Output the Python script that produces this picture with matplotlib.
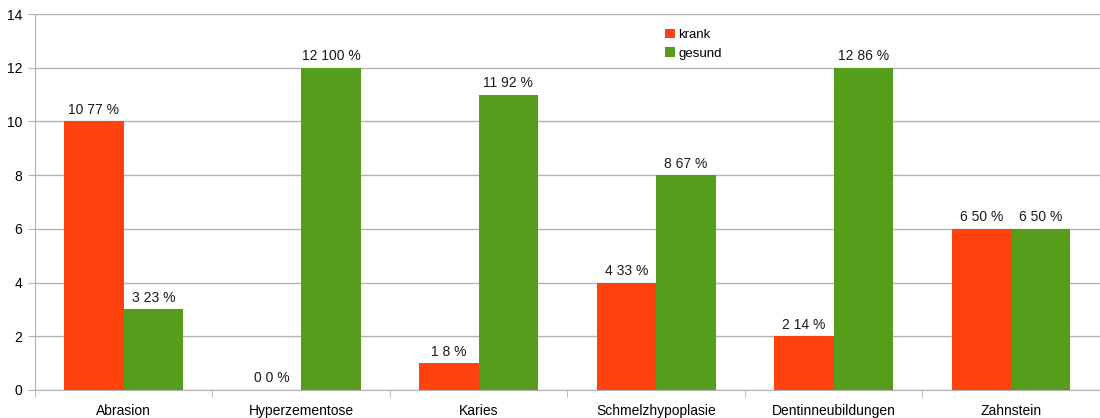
import matplotlib.pyplot as plt
import numpy as np

plt.rcParams['font.family'] = ['Liberation Sans', 'DejaVu Sans']

kategorien = ['Abrasion', 'Hyperzementose', 'Karies', 'Schmelzhypoplasie',
              'Dentinneubildungen', 'Zahnstein']
krank = [10, 0, 1, 4, 2, 6]
gesund = [3, 12, 11, 8, 12, 6]
krank_prozent = [77, 0, 8, 33, 14, 50]
gesund_prozent = [23, 100, 92, 67, 86, 50]

rot = '#ff420e'
gruen = '#579d1c'
grau = '#b3b3b3'

fig = plt.figure(figsize=(11, 4.18), dpi=100)
ax = fig.add_axes([0.0318, 0.067, 0.968, 0.8995])

x = np.arange(len(kategorien))
breite = 0.335
b1 = ax.bar(x - breite / 2, krank, breite, color=rot, label='krank', zorder=3)
b2 = ax.bar(x + breite / 2, gesund, breite, color=gruen, label='gesund', zorder=3)

for balken, werte, proz in ((b1, krank, krank_prozent), (b2, gesund, gesund_prozent)):
    for b, w, p in zip(balken, werte, proz):
        ax.text(b.get_x() + b.get_width() / 2, w + 0.17, f'{w} {p} %',
                ha='center', va='bottom', fontsize=10, color='#1a1a1a')

ax.set_xlim(-0.5, len(kategorien) - 0.5)
ax.set_ylim(0, 14)
ax.set_yticks(range(0, 15, 2))
ax.yaxis.grid(True, color=grau, linewidth=1, zorder=0)
ax.set_xticks(x)
ax.set_xticklabels(kategorien, fontsize=10)
ax.set_xticks(np.arange(-0.5, len(kategorien)), minor=True)
ax.tick_params(axis='x', which='major', length=0, pad=10)
ax.tick_params(axis='x', which='minor', length=5, color=grau)
ax.tick_params(axis='y', length=5, color=grau, labelsize=10, pad=4)

for s in ('top', 'right'):
    ax.spines[s].set_visible(False)
for s in ('left', 'bottom'):
    ax.spines[s].set_color(grau)

ax.legend(loc='upper left', bbox_to_anchor=(0.6, 0.943), bbox_transform=fig.transFigure,
          frameon=False, fontsize=9.5, handlelength=0.7, handleheight=0.7,
          handletextpad=0.3, labelspacing=0.45, borderaxespad=0)

fig.savefig('out.png', dpi=100)
